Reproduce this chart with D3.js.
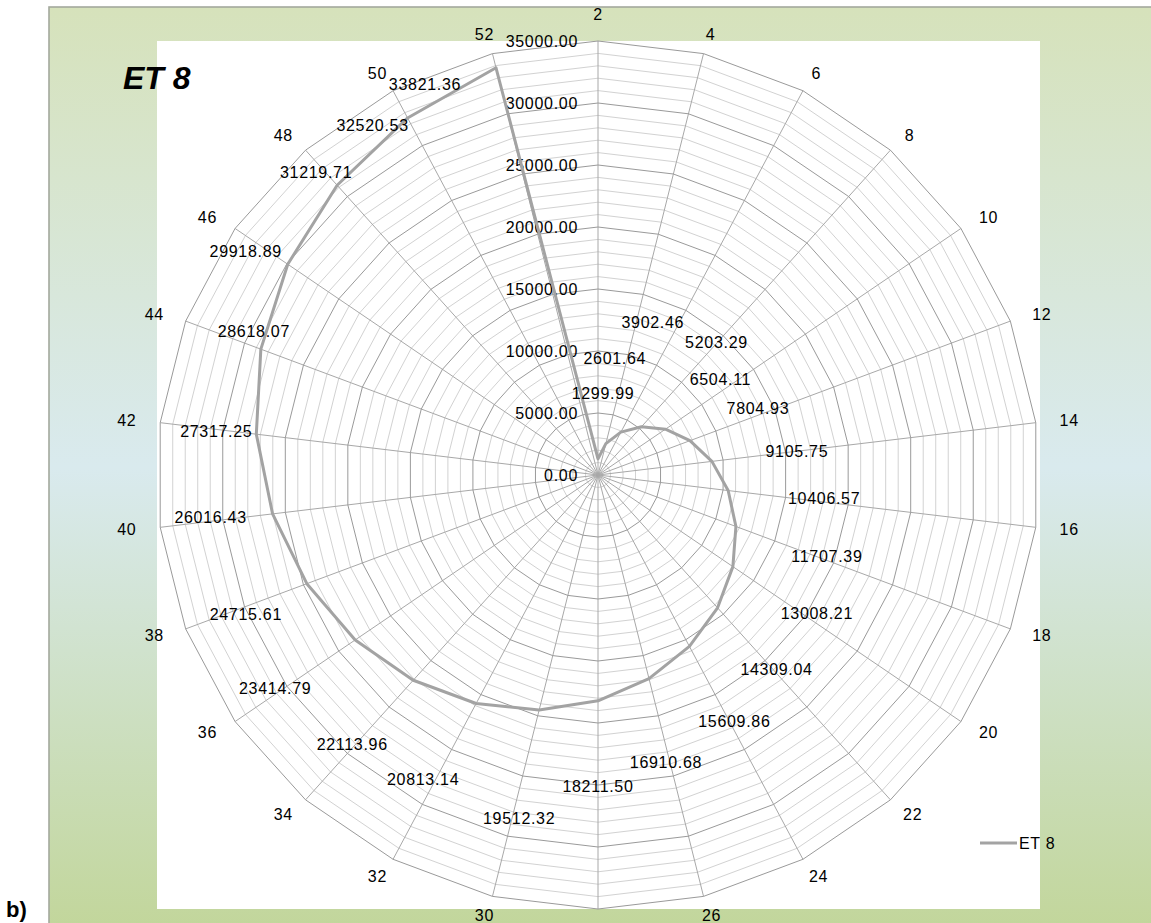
<!DOCTYPE html>
<html>
<head>
<meta charset="utf-8">
<script src="https://d3js.org/d3.v7.min.js"></script>
<style>
  html, body { margin: 0; padding: 0; background: #ffffff; }
  svg { display: block; }
  text { font-family: "Liberation Sans", Arial, sans-serif; fill: #000; }
</style>
</head>
<body>
<script>
// Categories around the radar (clockwise from the top)
const categories = ["2","4","6","8","10","12","14","16","18","20","22","24","26",
                    "28","30","32","34","36","38","40","42","44","46","48","50","52"];
// Series "ET 8"
const seriesName = "ET 8";
const values = [1299.99, 2601.64, 3902.46, 5203.29, 6504.11, 7804.93, 9105.75,
                10406.57, 11707.39, 13008.21, 14309.04, 15609.86, 16910.68,
                18211.50, 19512.32, 20813.14, 22113.96, 23414.79, 24715.61,
                26016.43, 27317.25, 28618.07, 29918.89, 31219.71, 32520.53, 33821.36];
// Value axis ticks
const radialTicks = [0, 5000, 10000, 15000, 20000, 25000, 30000, 35000];
const minorStep = 1000;
// Hand-placed offsets of the data labels from their points (px)
const labelShift = [[5,-65],[9,-85],[32,-110],[75,-84],[55,-50],[68,-32],[85,-10],
                    [96,8],[91,30],[84,47],[59,62],[45,75],[17,84],[0,86],[-20,109],
                    [-53,76],[-61,64],[-80,49],[-61,31],[-62,4],[-40,-3],[-7,-18],
                    [-42,-13],[-21,-13],[-35,8],[-71,17]];

const W = 1151, H = 923;
const cx = 598, cy = 475;
const maxV = d3.max(radialTicks);
const fs = 16, ls = 0.7;

const svg = d3.select("body").append("svg").attr("width", W).attr("height", H);

// Chart area background
const defs = svg.append("defs");
const grad = defs.append("linearGradient").attr("id", "bg")
  .attr("x1", 0).attr("y1", 0).attr("x2", 0).attr("y2", 1);
grad.append("stop").attr("offset", "0%").attr("stop-color", "#d6e2bb");
grad.append("stop").attr("offset", "50%").attr("stop-color", "#d9eaee");
grad.append("stop").attr("offset", "100%").attr("stop-color", "#c2d69b");

svg.append("rect").attr("x", 49).attr("y", 7).attr("width", W - 49 + 5).attr("height", H - 7 + 5)
  .attr("fill", "url(#bg)").attr("stroke", "#a3a99d").attr("stroke-width", 1.6);

// Plot area
svg.append("rect").attr("x", 157).attr("y", 41).attr("width", 883).attr("height", 868)
  .attr("fill", "#ffffff");

// Scales
const angle = d3.scaleLinear().domain([0, categories.length]).range([0, 2 * Math.PI]);
const rx = d3.scaleLinear().domain([0, maxV]).range([0, 441]);
const ry = d3.scaleLinear().domain([0, maxV]).range([0, 434]);
const px = (i, v) => cx + rx(v) * Math.sin(angle(i));
const py = (i, v) => cy - ry(v) * Math.cos(angle(i));

const g = svg.append("g");
const ring = v => categories.map((c, i) => [px(i, v), py(i, v)]);
const closed = d3.line().curve(d3.curveLinearClosed);

// Minor rings
const minorTicks = d3.range(minorStep, maxV + 1, minorStep).filter(v => v % 5000 !== 0);
g.selectAll("path.minor").data(minorTicks).join("path")
  .attr("class", "minor").attr("d", v => closed(ring(v)))
  .attr("fill", "none").attr("stroke", "#d2d2d2").attr("stroke-width", 1);

// Spokes
g.selectAll("line.spoke").data(categories).join("line")
  .attr("class", "spoke")
  .attr("x1", cx).attr("y1", cy)
  .attr("x2", (d, i) => px(i, maxV)).attr("y2", (d, i) => py(i, maxV))
  .attr("stroke", "#a8a8a8").attr("stroke-width", 1);

// Major rings
g.selectAll("path.major").data(radialTicks.filter(v => v > 0)).join("path")
  .attr("class", "major").attr("d", v => closed(ring(v)))
  .attr("fill", "none").attr("stroke", "#9a9a9a").attr("stroke-width", 1);

// Value axis labels along the first spoke
g.selectAll("text.tick").data(radialTicks).join("text")
  .attr("class", "tick")
  .attr("x", cx - 20).attr("y", v => cy - ry(v))
  .attr("text-anchor", "end").attr("dominant-baseline", "central")
  .attr("font-size", fs).attr("letter-spacing", ls)
  .text(v => d3.format(".2f")(v));

// Category labels outside the outer ring (a label that would fall below the chart is dropped)
const catPos = categories.map((d, i) => {
  const s = Math.sin(angle(i)), c = Math.cos(angle(i));
  const w = d.length * fs * 0.6;
  return {
    label: d,
    x: px(i, maxV) + s * (24 + w / 2),
    y: py(i, maxV) - c * 20 - (i === 0 ? 7 : 0)
  };
}).filter(p => p.y < H - 4);
g.selectAll("text.cat").data(catPos).join("text")
  .attr("class", "cat")
  .attr("font-size", fs).attr("letter-spacing", ls)
  .attr("text-anchor", "middle").attr("dominant-baseline", "central")
  .attr("x", p => p.x).attr("y", p => p.y)
  .text(p => p.label);

// Data series
const pts = values.map((v, i) => [px(i, v), py(i, v)]);
g.append("path").attr("d", closed(pts))
  .attr("fill", "none").attr("stroke", "#a3a3a3").attr("stroke-width", 3)
  .attr("stroke-linejoin", "round");

// Data labels
g.selectAll("text.val").data(values).join("text")
  .attr("class", "val")
  .attr("font-size", fs).attr("letter-spacing", ls)
  .attr("text-anchor", "middle").attr("dominant-baseline", "central")
  .attr("x", (v, i) => px(i, v) + labelShift[i][0])
  .attr("y", (v, i) => py(i, v) + labelShift[i][1])
  .text(v => d3.format(".2f")(v));

// Title
svg.append("text").attr("x", 123).attr("y", 89)
  .attr("font-size", 32).attr("font-weight", "bold").attr("font-style", "italic")
  .text(seriesName);

// Legend
svg.append("line").attr("x1", 980).attr("x2", 1017).attr("y1", 843).attr("y2", 843)
  .attr("stroke", "#a3a3a3").attr("stroke-width", 3);
svg.append("text").attr("x", 1019).attr("y", 843).attr("dominant-baseline", "central")
  .attr("font-size", fs).attr("letter-spacing", ls).text(seriesName);

// Panel tag
svg.append("text").attr("x", 6).attr("y", 917)
  .attr("font-size", 22).attr("font-weight", "bold").text("b)");
</script>
</body>
</html>
